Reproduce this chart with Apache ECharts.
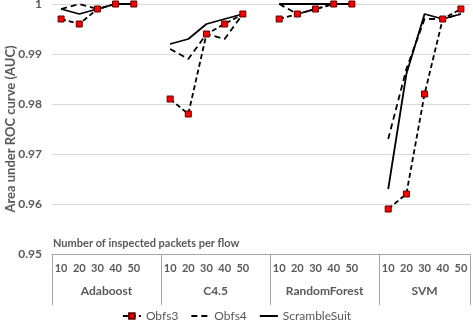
<!DOCTYPE html>
<html>
<head>
<meta charset="utf-8">
<script src="https://cdn.jsdelivr.net/npm/echarts@6/dist/echarts.min.js"></script>
<style>html,body{margin:0;padding:0;background:#fff;}#c{width:473px;height:330px;}</style>
</head>
<body>
<div id="c"></div>
<script>
const groups = ['Adaboost', 'C4.5', 'RandomForest', 'SVM'];
const packets = ['10', '20', '30', '40', '50'];
const yTicks = [0.95, 0.96, 0.97, 0.98, 0.99, 1];
// values per group: Adaboost, C4.5, RandomForest, SVM
const obfs3 = [
  [0.997, 0.996, 0.999, 1.000, 1.000],
  [0.981, 0.978, 0.994, 0.996, 0.998],
  [0.997, 0.998, 0.999, 1.000, 1.000],
  [0.959, 0.962, 0.982, 0.997, 0.999]
];
const obfs4 = [
  [0.999, 1.000, 0.999, 1.000, 1.000],
  [0.991, 0.989, 0.994, 0.993, 0.998],
  [1.000, 0.998, 0.999, 1.000, 1.000],
  [0.973, 0.987, 0.997, 0.997, 0.998]
];
const scramble = [
  [0.999, 0.998, 0.999, 1.000, 1.000],
  [0.992, 0.993, 0.996, 0.997, 0.998],
  [1.000, 1.000, 1.000, 1.000, 1.000],
  [0.963, 0.986, 0.998, 0.997, 0.998]
];

// flat category axis with one blank slot between groups
const categories = [];
const groupCenters = {};
const groupStarts = [];
groups.forEach((g, gi) => {
  const start = categories.length;
  groupStarts.push(start);
  packets.forEach(p => categories.push(p));
  if (gi < groups.length - 1) categories.push('');
  groupCenters[(start + categories.length) / 2] = g;
});
function flatten(arr) {
  const out = [];
  arr.forEach((grp, gi) => {
    grp.forEach(v => out.push(v));
    if (gi < arr.length - 1) out.push(null);
  });
  return out;
}

const txt = '#595959';
const font = 'Lato, "Open Sans", sans-serif';
const hiddenSym = { color: 'transparent', borderColor: 'transparent', borderWidth: 0, opacity: 0 };
const chart = echarts.init(document.getElementById('c'));
chart.setOption({
  animation: false,
  textStyle: { fontFamily: font },
  title: {
    text: 'Number of inspected packets per flow',
    left: 48, top: 233,
    textStyle: { fontSize: 11, fontWeight: 'bold', color: txt, fontFamily: font }
  },
  grid: { left: 52, right: 3, top: 4, bottom: 76, outerBoundsMode: 'none', containLabel: false },
  xAxis: [{
    type: 'category',
    data: categories,
    boundaryGap: true,
    axisLine: { lineStyle: { color: '#a6a6a6', width: 1 } },
    axisTick: {
      show: true,
      length: 51,
      interval: (idx) => groupStarts.indexOf(idx) >= 0,
      lineStyle: { color: '#a6a6a6', width: 1 }
    },
    axisLabel: { interval: 0, margin: 9, fontSize: 11, fontWeight: 'bold', color: txt, fontFamily: font },
    splitLine: { show: false }
  }, {
    type: 'value',
    min: 0,
    max: categories.length,
    interval: 0.5,
    position: 'bottom',
    axisLine: { show: false },
    axisTick: { show: false },
    splitLine: { show: false },
    axisLabel: {
      margin: 31, fontSize: 12, fontWeight: 'bold', color: txt, fontFamily: font,
      showMinLabel: true, showMaxLabel: true,
      formatter: v => groupCenters[v] || ''
    }
  }],
  yAxis: {
    type: 'value',
    min: yTicks[0], max: yTicks[yTicks.length - 1], interval: 0.01,
    name: 'Area under ROC curve (AUC)',
    nameLocation: 'middle',
    nameGap: 35,
    nameMoveOverlap: false,
    nameTextStyle: { fontSize: 13, fontWeight: 'bold', color: txt, fontFamily: font },
    axisLine: { show: false },
    axisTick: { show: false },
    axisLabel: {
      fontSize: 12, fontWeight: 'bold', color: txt, fontFamily: font, margin: 10,
      formatter: v => (Math.abs(v - 1) < 1e-9 ? '1' : v.toFixed(2))
    },
    splitLine: { lineStyle: { color: '#d9d9d9', width: 1 } }
  },
  legend: {
    bottom: 3,
    left: 'center',
    itemWidth: 18,
    itemHeight: 7,
    itemGap: 12,
    textStyle: { fontSize: 12, color: txt, fontFamily: font },
    data: [
      { name: 'Obfs3' },
      { name: 'Obfs4', itemStyle: hiddenSym },
      { name: 'ScrambleSuit', itemStyle: hiddenSym }
    ]
  },
  series: [{
    name: 'Obfs3', type: 'line', xAxisIndex: 0,
    data: flatten(obfs3),
    symbol: 'rect', symbolSize: 6,
    itemStyle: { color: '#ff0000', borderColor: '#600000', borderWidth: 1 },
    lineStyle: { color: '#000', width: 1.8, type: [5, 3] },
    z: 4
  }, {
    name: 'Obfs4', type: 'line', xAxisIndex: 0,
    data: flatten(obfs4),
    symbol: 'none',
    itemStyle: { color: '#000' },
    lineStyle: { color: '#000', width: 1.8, type: [6, 4] },
    z: 3
  }, {
    name: 'ScrambleSuit', type: 'line', xAxisIndex: 0,
    data: flatten(scramble),
    symbol: 'none',
    itemStyle: { color: '#000' },
    lineStyle: { color: '#000', width: 1.8 },
    z: 3
  }]
});
</script>
</body>
</html>
